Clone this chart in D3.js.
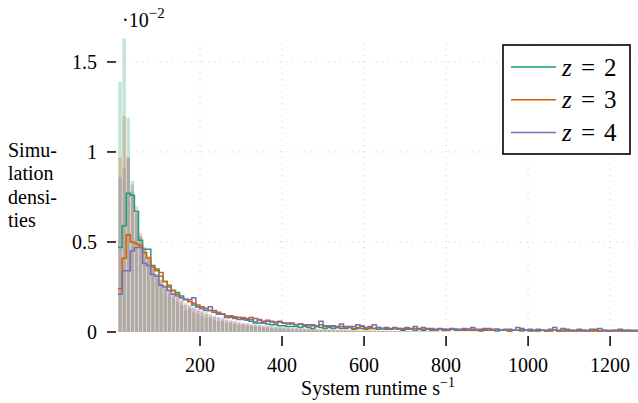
<!DOCTYPE html>
<html>
<head>
<meta charset="utf-8">
<script src="https://cdn.jsdelivr.net/npm/d3@7"></script>
<style>
  body { margin: 0; background: #fff; }
  svg { display: block; }
  text { font-family: "Liberation Serif", "Times New Roman", serif; }
</style>
</head>
<body>
<div id="chart"></div>
<script>
// histogram bin width in s^-1, values are densities in units of 10^-2
const binWidth = 10;
const series = ["z2", "z3", "z4"];
const labels = ["2", "3", "4"];
const colors = ["#1b9e77", "#d95f02", "#7570b3"];
const xTicks = [200, 400, 600, 800, 1000, 1200];
const yTicks = [0, 0.5, 1, 1.5];
const yTickLabels = ["0", "0.5", "1", "1.5"];
const yLabel = ["Simu-", "lation", "densi-", "ties"];

// filled histograms (simulation)
const fillZ2 = [
  1.39, 1.63, 1.19, 0.84, 0.66, 0.53, 0.46, 0.40, 0.35, 0.30,
  0.27, 0.24, 0.21, 0.19, 0.17, 0.15, 0.12, 0.13, 0.11, 0.10,
  0.09, 0.08, 0.08, 0.07, 0.06, 0.06, 0.05, 0.05, 0.045, 0.04,
  0.04, 0.035, 0.035, 0.03, 0.03, 0.025, 0.025, 0.02, 0.02, 0.02,
  0.018, 0.015, 0.015, 0.015, 0.012, 0.012, 0.01, 0.01, 0.01, 0.008,
  0.008, 0.008, 0.007, 0.007, 0.006, 0.006, 0.005, 0.005, 0.005, 0.004,
  0.004, 0.004, 0.004, 0.003, 0.004, 0.003, 0.003, 0.003, 0.003, 0.002,
  0.003, 0.002, 0.002, 0.003, 0.002, 0.002, 0.002, 0.002, 0.001, 0.002
];
const fillZ3 = [
  0.97, 1.20, 0.97, 0.78, 0.70, 0.55, 0.47, 0.42, 0.37, 0.32,
  0.29, 0.26, 0.23, 0.21, 0.19, 0.17, 0.15, 0.14, 0.13, 0.12,
  0.11, 0.10, 0.09, 0.085, 0.08, 0.07, 0.065, 0.06, 0.055, 0.05,
  0.048, 0.045, 0.04, 0.04, 0.035, 0.033, 0.03, 0.03, 0.028, 0.025,
  0.025, 0.022, 0.02, 0.02, 0.018, 0.017, 0.016, 0.015, 0.014, 0.013,
  0.012, 0.012, 0.011, 0.01, 0.01, 0.009, 0.009, 0.008, 0.008, 0.007,
  0.007, 0.007, 0.006, 0.006, 0.006, 0.005, 0.005, 0.005, 0.004, 0.005,
  0.004, 0.004, 0.004, 0.003, 0.004, 0.003, 0.003, 0.003, 0.002, 0.003
];
const fillZ4 = [
  0.86, 0.91, 0.97, 0.82, 0.66, 0.53, 0.47, 0.42, 0.37, 0.32,
  0.29, 0.26, 0.24, 0.22, 0.20, 0.18, 0.16, 0.15, 0.14, 0.13,
  0.12, 0.11, 0.10, 0.09, 0.085, 0.08, 0.07, 0.065, 0.06, 0.055,
  0.05, 0.048, 0.045, 0.042, 0.04, 0.037, 0.035, 0.033, 0.03, 0.028,
  0.027, 0.025, 0.024, 0.022, 0.021, 0.02, 0.019, 0.018, 0.017, 0.016,
  0.015, 0.015, 0.014, 0.013, 0.013, 0.012, 0.011, 0.011, 0.01, 0.01,
  0.01, 0.009, 0.009, 0.008, 0.008, 0.008, 0.007, 0.007, 0.007, 0.006,
  0.006, 0.006, 0.005, 0.005, 0.005, 0.005, 0.004, 0.004, 0.004, 0.004,
  0.004, 0.003, 0.003, 0.003, 0.003, 0.003, 0.003, 0.002, 0.003, 0.002
];

// step histograms
const lineZ2 = [
  0.47, 0.59, 0.77, 0.76, 0.67, 0.51, 0.46, 0.46, 0.37, 0.35,
  0.31, 0.28, 0.25, 0.23, 0.22, 0.20, 0.18, 0.17, 0.15, 0.14,
  0.13, 0.12, 0.12, 0.11, 0.10, 0.10, 0.09, 0.085, 0.08, 0.08,
  0.075, 0.065, 0.06, 0.055, 0.05, 0.05, 0.045, 0.04, 0.04, 0.035,
  0.035, 0.03, 0.03, 0.03, 0.025, 0.03, 0.025, 0.02, 0.03, 0.025,
  0.02, 0.025, 0.02, 0.025, 0.02, 0.02, 0.025, 0.015, 0.02, 0.02,
  0.015, 0.02, 0.02, 0.015, 0.02, 0.015, 0.015, 0.02, 0.015, 0.01,
  0.015, 0.015, 0.01, 0.015, 0.01, 0.015, 0.01, 0.01, 0.015, 0.01,
  0.01, 0.015, 0.01, 0.01, 0.01, 0.015, 0.01, 0.01, 0.005, 0.01,
  0.01, 0.01, 0.005, 0.01, 0.01, 0.005, 0.01, 0.01, 0.005, 0.01,
  0.005, 0.01, 0.005, 0.01, 0.005, 0.005, 0.01, 0.005, 0.005, 0.01,
  0.005, 0.005, 0.01, 0.005, 0.005, 0.005, 0.01, 0.005, 0.005, 0.005,
  0.005, 0.005, 0.01, 0.005, 0.005, 0.005, 0.005
];
const lineZ3 = [
  0.24, 0.41, 0.54, 0.50, 0.49, 0.48, 0.44, 0.41, 0.36, 0.34,
  0.33, 0.28, 0.26, 0.23, 0.21, 0.19, 0.18, 0.17, 0.16, 0.15,
  0.14, 0.13, 0.12, 0.12, 0.11, 0.10, 0.08, 0.09, 0.085, 0.08,
  0.08, 0.075, 0.07, 0.075, 0.065, 0.06, 0.065, 0.06, 0.055, 0.06,
  0.05, 0.045, 0.05, 0.04, 0.045, 0.035, 0.04, 0.035, 0.03, 0.04,
  0.03, 0.035, 0.03, 0.025, 0.03, 0.025, 0.03, 0.02, 0.025, 0.03,
  0.02, 0.025, 0.02, 0.025, 0.02, 0.02, 0.015, 0.02, 0.02, 0.015,
  0.02, 0.015, 0.02, 0.015, 0.015, 0.02, 0.015, 0.01, 0.015, 0.015,
  0.01, 0.015, 0.015, 0.01, 0.015, 0.01, 0.015, 0.01, 0.01, 0.015,
  0.01, 0.01, 0.015, 0.01, 0.01, 0.005, 0.01, 0.01, 0.015, 0.01,
  0.01, 0.005, 0.01, 0.01, 0.005, 0.01, 0.01, 0.005, 0.01, 0.005,
  0.01, 0.005, 0.005, 0.01, 0.005, 0.01, 0.005, 0.005, 0.01, 0.005,
  0.005, 0.01, 0.005, 0.005, 0.01, 0.005, 0.005
];
const lineZ4 = [
  0.21, 0.34, 0.34, 0.45, 0.47, 0.47, 0.38, 0.37, 0.32, 0.31,
  0.26, 0.25, 0.23, 0.21, 0.20, 0.19, 0.18, 0.18, 0.19, 0.14,
  0.13, 0.13, 0.14, 0.11, 0.10, 0.10, 0.09, 0.08, 0.075, 0.07,
  0.07, 0.07, 0.08, 0.05, 0.07, 0.05, 0.06, 0.055, 0.05, 0.055,
  0.05, 0.05, 0.045, 0.04, 0.045, 0.04, 0.035, 0.04, 0.035, 0.06,
  0.035, 0.03, 0.035, 0.03, 0.045, 0.03, 0.025, 0.03, 0.04, 0.035,
  0.025, 0.03, 0.04, 0.025, 0.02, 0.025, 0.02, 0.025, 0.02, 0.02,
  0.025, 0.02, 0.03, 0.02, 0.025, 0.015, 0.02, 0.015, 0.02, 0.015,
  0.015, 0.02, 0.015, 0.015, 0.02, 0.015, 0.025, 0.015, 0.015, 0.02,
  0.02, 0.015, 0.015, 0.01, 0.015, 0.015, 0.01, 0.025, 0.02, 0.01,
  0.015, 0.01, 0.015, 0.01, 0.01, 0.015, 0.025, 0.01, 0.02, 0.015,
  0.01, 0.01, 0.015, 0.01, 0.01, 0.015, 0.015, 0.02, 0.01, 0.01,
  0.01, 0.01, 0.015, 0.01, 0.01, 0.01, 0.01
];

const fills = [fillZ2, fillZ3, fillZ4];
const lines = [lineZ2, lineZ3, lineZ4];

const width = 638, height = 403;
const margin = { left: 118, right: 0, top: 38, bottom: 71 };
const serif = "Liberation Serif, Times New Roman, serif";

const svg = d3.select("#chart").append("svg")
  .attr("width", width)
  .attr("height", height)
  .attr("font-family", serif);

const x = d3.scaleLinear().domain([0, 1268]).range([margin.left, width - margin.right]);
const y = d3.scaleLinear().domain([0, 1.633]).range([height - margin.bottom, margin.top]);

svg.append("clipPath").attr("id", "plot")
  .append("rect")
  .attr("x", margin.left).attr("y", 0)
  .attr("width", width - margin.left - margin.right)
  .attr("height", height - margin.bottom + 1);

// dotted grid
const grid = svg.append("g").attr("stroke", "#cccccc").attr("stroke-width", 1).attr("stroke-dasharray", "1,5");
grid.selectAll(".gx").data(xTicks).join("line")
  .attr("x1", d => x(d)).attr("x2", d => x(d))
  .attr("y1", y(0)).attr("y2", margin.top + 2);
grid.selectAll(".gy").data(yTicks.slice(1)).join("line")
  .attr("x1", x(0)).attr("x2", width)
  .attr("y1", d => y(d)).attr("y2", d => y(d));

const plot = svg.append("g").attr("clip-path", "url(#plot)");

// translucent filled bars
fills.forEach((vals, k) => {
  plot.append("g")
    .selectAll("rect")
    .data(vals)
    .join("rect")
    .attr("x", (d, i) => x(i * binWidth) + 0.3)
    .attr("width", x(binWidth) - x(0) - 0.6)
    .attr("y", d => y(d))
    .attr("height", d => y(0) - y(d))
    .attr("fill", colors[k])
    .attr("fill-opacity", 0.27);
});

// step outlines
const step = d3.line()
  .x(d => x(d[0]))
  .y(d => y(d[1]))
  .curve(d3.curveStepAfter);

lines.forEach((vals, k) => {
  const pts = vals.map((v, i) => [i * binWidth, v]);
  pts.push([vals.length * binWidth, vals[vals.length - 1]]);
  plot.append("path")
    .attr("d", step(pts))
    .attr("fill", "none")
    .attr("stroke", colors[k])
    .attr("stroke-width", 1.5);
});

// y axis ticks
const yAxis = svg.append("g");
yAxis.selectAll("line").data(yTicks).join("line")
  .attr("x1", 107).attr("x2", 116)
  .attr("y1", d => y(d)).attr("y2", d => y(d))
  .attr("stroke", "#000").attr("stroke-width", 1.5);
yAxis.selectAll("text").data(yTicks).join("text")
  .attr("x", 97)
  .attr("y", d => y(d) + 7)
  .attr("text-anchor", "end")
  .attr("font-size", 20)
  .text((d, i) => yTickLabels[i]);

// x axis ticks
const xAxis = svg.append("g");
xAxis.selectAll("line").data(xTicks).join("line")
  .attr("x1", d => x(d)).attr("x2", d => x(d))
  .attr("y1", 336).attr("y2", 346)
  .attr("stroke", "#000").attr("stroke-width", 1.5);
xAxis.selectAll("text").data(xTicks).join("text")
  .attr("x", d => x(d))
  .attr("y", 372)
  .attr("text-anchor", "middle")
  .attr("font-size", 20)
  .text(d => d);

// exponent label
const expo = svg.append("text").attr("x", 122).attr("y", 27).attr("font-size", 20);
expo.append("tspan").text("·10");
expo.append("tspan").attr("dy", -9).attr("font-size", 15).text("−2");

// axis titles
const xt = svg.append("text")
  .attr("x", (x(0) + width) / 2).attr("y", 395)
  .attr("text-anchor", "middle")
  .attr("font-size", 20);
xt.append("tspan").text("System runtime s");
xt.append("tspan").attr("dy", -8).attr("font-size", 14).text("−1");

svg.append("g").selectAll("text").data(yLabel).join("text")
  .attr("x", 8)
  .attr("y", (d, i) => 157 + i * 23.3)
  .attr("font-size", 20)
  .text(d => d);

// legend
const lg = svg.append("g");
lg.append("rect")
  .attr("x", 503).attr("y", 45)
  .attr("width", 127).attr("height", 109)
  .attr("fill", "#fff").attr("stroke", "#000").attr("stroke-width", 1.6);
const item = lg.selectAll(".item").data(series).join("g")
  .attr("transform", (d, i) => `translate(0,${67 + i * 32.7})`);
item.append("line")
  .attr("x1", 511).attr("x2", 556)
  .attr("stroke", (d, i) => colors[i]).attr("stroke-width", 1.5);
const lt = item.append("text").attr("y", 8.5).attr("font-size", 25);
lt.append("tspan").attr("x", 562).attr("font-style", "italic").text("z");
lt.append("tspan").attr("x", 581).text("=");
lt.append("tspan").attr("x", 604).text((d, i) => labels[i]);
</script>
</body>
</html>
